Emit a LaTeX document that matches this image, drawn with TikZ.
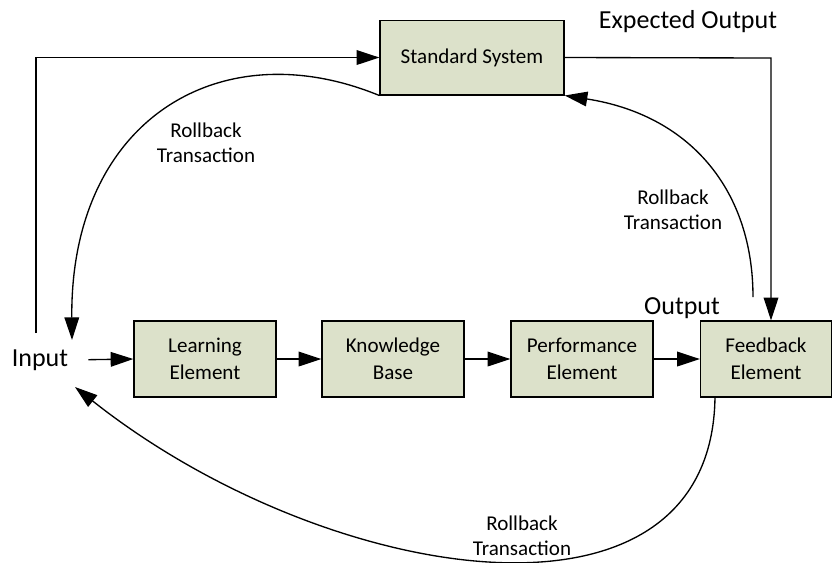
\documentclass[tikz,border=0pt]{standalone}
\usepackage{fontspec}
\setmainfont{Carlito}
\usepackage{tikz}
\usetikzlibrary{arrows.meta}

\definecolor{boxfill}{RGB}{220,225,202}

\begin{document}
\begin{tikzpicture}[x=0.75pt,y=-0.75pt,
  block/.style={draw=black,line width=1pt,fill=boxfill,align=center,
    font=\fontsize{15.8}{20}\selectfont,inner sep=0pt},
  label/.style={align=center,font=\fontsize{15.8}{19}\selectfont,inner sep=0pt},
  biglabel/.style={font=\fontsize{19.5}{22}\selectfont,inner sep=0pt},
  arr/.style={-{Triangle[length=17pt,width=11pt]},line width=1pt}]

\useasboundingbox (0,0) rectangle (833,562);

\node [block,minimum width=138pt,minimum height=56pt] (ss) at (472,57.5) {Standard System};
\node [block,minimum width=106.5pt,minimum height=57pt] (le) at (205,359) {Learning\\Element};
\node [block,minimum width=106.5pt,minimum height=57pt] (kb) at (393,359) {Knowledge\\Base};
\node [block,minimum width=106.5pt,minimum height=57pt] (pe) at (582,359) {Performance\\Element};
\node [block,minimum width=98.25pt,minimum height=57pt] (fb) at (766,359) {Feedback\\Element};

\node [biglabel] (in) at (40,360) {Input};
\node [biglabel] (eo) at (688,22) {Expected Output};
\node [biglabel] (out) at (682,308) {Output};

\node [label] (rb1) at (206,143) {Rollback\\Transaction};
\node [label] (rb2) at (673,210) {Rollback\\Transaction};
\node [label] (rb3) at (522,536) {Rollback\\Transaction};

\coordinate (inup) at (36,333);
\coordinate (intop) at (72,340);
\coordinate (inbot) at (75,387);
\coordinate (fbtop) at (753,297);
\coordinate (fbbot) at (715,397);
\coordinate (fbin) at (771,58);

% main chain
\draw [arr,shorten <=15pt] (in.east) -- (le.west);
\draw [arr] (le) -- (kb);
\draw [arr] (kb) -- (pe);
\draw [arr] (pe) -- (fb);

% standard system loop
\draw [arr] (inup) |- (ss.west);
\draw [arr] (ss.east) -- (fbin) -- (fbin |- fb.north);

% rollbacks
\draw [arr] (ss.south west) .. controls (220,30) and (70,120) .. (intop);
\draw [arr] (fbtop) .. controls (753,190) and (690,115) .. (ss.south east);
\draw [arr] (fbbot) .. controls (712,648) and (325,585) .. (inbot);
\end{tikzpicture}
\end{document}
